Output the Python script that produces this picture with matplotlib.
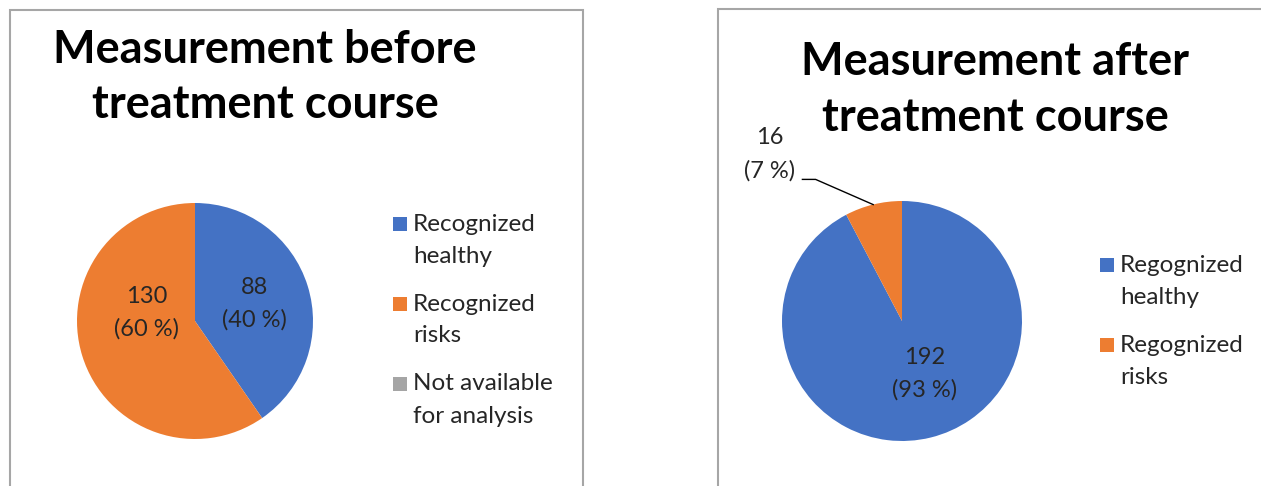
import matplotlib
matplotlib.use("Agg")
import matplotlib.pyplot as plt
from matplotlib.patches import Rectangle
from matplotlib.lines import Line2D

plt.rcParams['font.family'] = ['Lato', 'DejaVu Sans']

W, H = 1261, 486

# Data
before_labels = ["Recognized\nhealthy", "Recognized\nrisks", "Not available\nfor analysis"]
before_values = [88, 130, 0]
before_pct = [40, 60, 0]
after_labels = ["Regognized\nhealthy", "Regognized\nrisks"]
after_values = [192, 16]
after_pct = [93, 7]
titles = ["Measurement before\ntreatment course", "Measurement after\ntreatment course"]

colors = ["#4472C4", "#ED7D31", "#A5A5A5"]
txt_color = "#262626"

fig = plt.figure(figsize=(W / 100, H / 100), dpi=100)

def fx(x):
    return x / W

def fy(y):
    return 1 - y / H

def px_axes(cx, cy, r):
    return fig.add_axes([(cx - r) / W, (H - cy - r) / H, 2 * r / W, 2 * r / H])

def multiline(xc, y_first, text, step, **kw):
    for i, line in enumerate(text.split("\n")):
        fig.text(fx(xc), fy(y_first + i * step), line, va="center", **kw)

# panel borders
fig.patches.append(Rectangle((fx(9.5), -0.1), (582.5 - 9.5) / W, (H - 10) / H + 0.1,
                             transform=fig.transFigure, fill=False, edgecolor="#A6A6A6", lw=1.5))
fig.patches.append(Rectangle((fx(718), -0.1), 0.5, (H - 9) / H + 0.1,
                             transform=fig.transFigure, fill=False, edgecolor="#A6A6A6", lw=1.5))

# titles
multiline(265, 50, titles[0], 55, ha="center", fontsize=32.5, fontweight="bold", color="black")
multiline(995, 62, titles[1], 56, ha="center", fontsize=32.5, fontweight="bold", color="black")

def data_label(ax, x, y, text, r):
    step = 33 / r
    lines = text.split("\n")
    y0 = y + step * (len(lines) - 1) / 2
    for i, line in enumerate(lines):
        ax.text(x, y0 - i * step, line, ha="center", va="center", fontsize=17,
                color=txt_color, clip_on=False)

# left pie
R1 = 118
ax1 = px_axes(195, 321, R1)
ax1.pie(before_values, colors=colors, startangle=90, counterclock=False,
        wedgeprops=dict(linewidth=0))
ax1.set_xlim(-1, 1); ax1.set_ylim(-1, 1)
label_pos1 = [(0.50, 0.148), (-0.41, 0.072)]
for (x, y), v, p in zip(label_pos1, before_values[:2], before_pct[:2]):
    data_label(ax1, x, y, f"{v}\n({p} %)", R1)

# right pie
R2 = 120
ax2 = px_axes(902, 321, R2)
ax2.pie(after_values, colors=colors[:2], startangle=90, counterclock=False,
        wedgeprops=dict(linewidth=0))
ax2.set_xlim(-1, 1); ax2.set_ylim(-1, 1)
data_label(ax2, 0.19, -0.44, f"{after_values[0]}\n({after_pct[0]} %)", R2)
data_label(ax2, -1.10, 1.39, f"{after_values[1]}\n({after_pct[1]} %)", R2)
ax2.add_line(Line2D([-0.83, -0.72, -0.24], [1.18, 1.18, 0.97], color="black", lw=1,
                    clip_on=False))

# legends (marker aligned with first text line, like Excel)
def draw_legend(x_marker, x_text, y_first, labels, cols, step_entry, step_line):
    for i, (lab, c) in enumerate(zip(labels, cols)):
        y = y_first + i * step_entry
        fig.patches.append(Rectangle((fx(x_marker), fy(y + 7)), 14 / W, 14 / H,
                                     transform=fig.transFigure, facecolor=c, edgecolor="none"))
        multiline(x_text, y, lab, step_line, ha="left", fontsize=17.5, color=txt_color)

draw_legend(393, 413, 224, before_labels, colors, 80, 32)
draw_legend(1100, 1120, 265, after_labels, colors[:2], 80, 32)

fig.savefig("out.png", dpi=100)
